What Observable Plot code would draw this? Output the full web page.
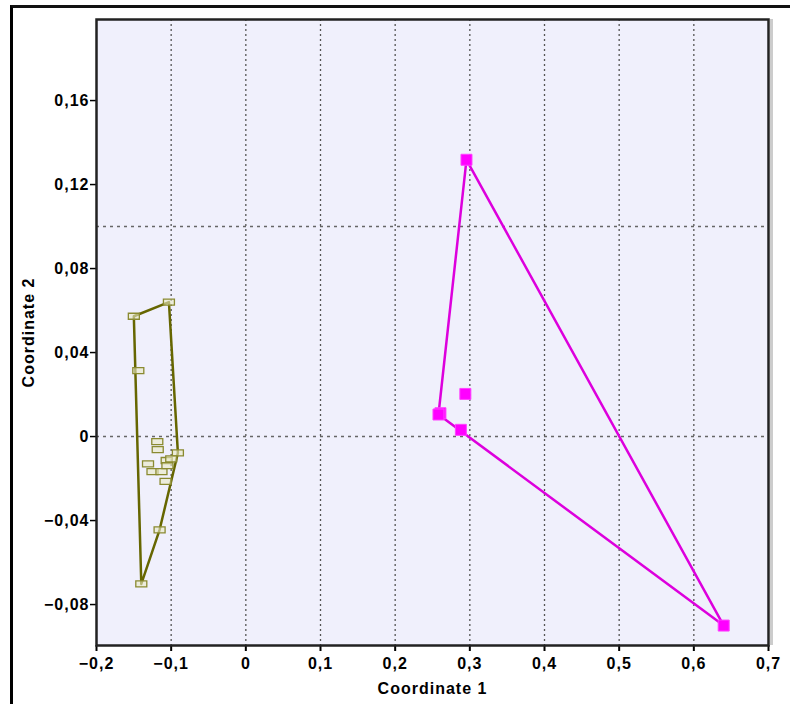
<!DOCTYPE html>
<html>
<head>
<meta charset="utf-8">
<script src="https://cdn.jsdelivr.net/npm/d3@7"></script>
<script src="https://cdn.jsdelivr.net/npm/@observablehq/plot@0.6"></script>
<style>
  body { margin: 0; background: #fff; }
  #wrap { position: relative; width: 790px; height: 704px; overflow: hidden; }
  #border { position: absolute; left: 10px; top: 5px; width: 800px; height: 720px;
            border-left: 3px solid #000; border-top: 3px solid #111; }
  #chart { position: absolute; left: 0; top: 0; }
</style>
</head>
<body>
<div id="wrap"><div id="chart"></div><div id="border"></div></div>
<script>
// Group 1 (olive, open rectangles)
const g1x = [-0.103, -0.150, -0.144, -0.1186, -0.118, -0.091, -0.131, -0.125, -0.113, -0.106, -0.105, -0.0999, -0.1075, -0.1155, -0.140];
const g1y = [0.064, 0.0573, 0.0314, -0.0024, -0.0062, -0.0078, -0.013, -0.0167, -0.0167, -0.0114, -0.0138, -0.0106, -0.0213, -0.0444, -0.0702];
// Group 2 (magenta, filled squares)
const g2x = [0.2955, 0.294, 0.2606, 0.258, 0.288, 0.640];
const g2y = [0.1318, 0.0203, 0.0111, 0.0105, 0.0032, -0.090];

const xTicks = [-0.2, -0.1, 0, 0.1, 0.2, 0.3, 0.4, 0.5, 0.6, 0.7];
const yTicks = [-0.08, -0.04, 0, 0.04, 0.08, 0.12, 0.16];
const yGrid = [0, 0.1];

const g1 = g1x.map((x, i) => ({x, y: g1y[i]}));
const g2 = g2x.map((x, i) => ({x, y: g2y[i]}));
const hull = pts => {
  const h = d3.polygonHull(pts.map(p => [p.x, p.y]));
  return [...h, h[0]].map(([x, y]) => ({x, y}));
};
const rectSym = { draw(ctx) { ctx.rect(-5.5, -3, 11, 6); } };
const sqSym = { draw(ctx) { ctx.rect(-5.5, -5.5, 11, 11); } };
const fmtX = d => d === 0 ? "0" : d3.format(".1f")(d).replace(".", ",").replace("-", "\u2013");
const fmtY = d => d === 0 ? "0" : d3.format(".2f")(d).replace(".", ",");

const plot = Plot.plot({
  width: 790, height: 704,
  marginLeft: 96, marginRight: 22, marginTop: 19, marginBottom: 59,
  style: { fontFamily: "Arial, 'Liberation Sans', sans-serif", fontSize: "16px", fontWeight: "bold", letterSpacing: "1px", color: "#000", background: "transparent" },
  x: { domain: [-0.2, 0.7] },
  y: { domain: [-0.0995, 0.1986] },
  marks: [
    Plot.frame({ fill: "#f0f0fc" }),
    Plot.ruleX(xTicks.slice(1, -1), { stroke: "#555", strokeWidth: 1.3, strokeDasharray: "2,3" }),
    Plot.ruleY(yGrid, { stroke: "#666", strokeWidth: 1.5, strokeDasharray: "3,4" }),
    Plot.line(hull(g1), { x: "x", y: "y", stroke: "#666600", strokeWidth: 2.5, curve: "linear" }),
    Plot.dot(g1, { x: "x", y: "y", symbol: rectSym, r: 4, fill: "#eaeac4", fillOpacity: 0.6, stroke: "#8a8a30", strokeWidth: 1.3 }),
    Plot.line(hull(g2), { x: "x", y: "y", stroke: "#dd00dd", strokeWidth: 2.5, curve: "linear" }),
    Plot.dot(g2, { x: "x", y: "y", symbol: sqSym, r: 4, fill: "#ff00ff", stroke: "#ff40ff", strokeWidth: 1 }),
    Plot.axisX({ ticks: xTicks, tickFormat: fmtX, tickSize: 6, tickPadding: 6, strokeWidth: 2,
                 label: "Coordinate 1", labelAnchor: "center", labelArrow: "none", labelOffset: 48, fontSize: 16 }),
    Plot.axisY({ ticks: yTicks, tickFormat: fmtY, tickSize: 6, tickPadding: 1, strokeWidth: 1.5,
                 label: "Coordinate 2", labelAnchor: "center", labelArrow: "none", labelOffset: 74, fontSize: 16 }),
    Plot.frame({ stroke: "#222", strokeWidth: 2.5 }),
    Plot.ruleX([0.7], { stroke: "#ccc", strokeWidth: 3, dx: 3 })
  ]
});
document.getElementById("chart").appendChild(plot);
</script>
</body>
</html>
